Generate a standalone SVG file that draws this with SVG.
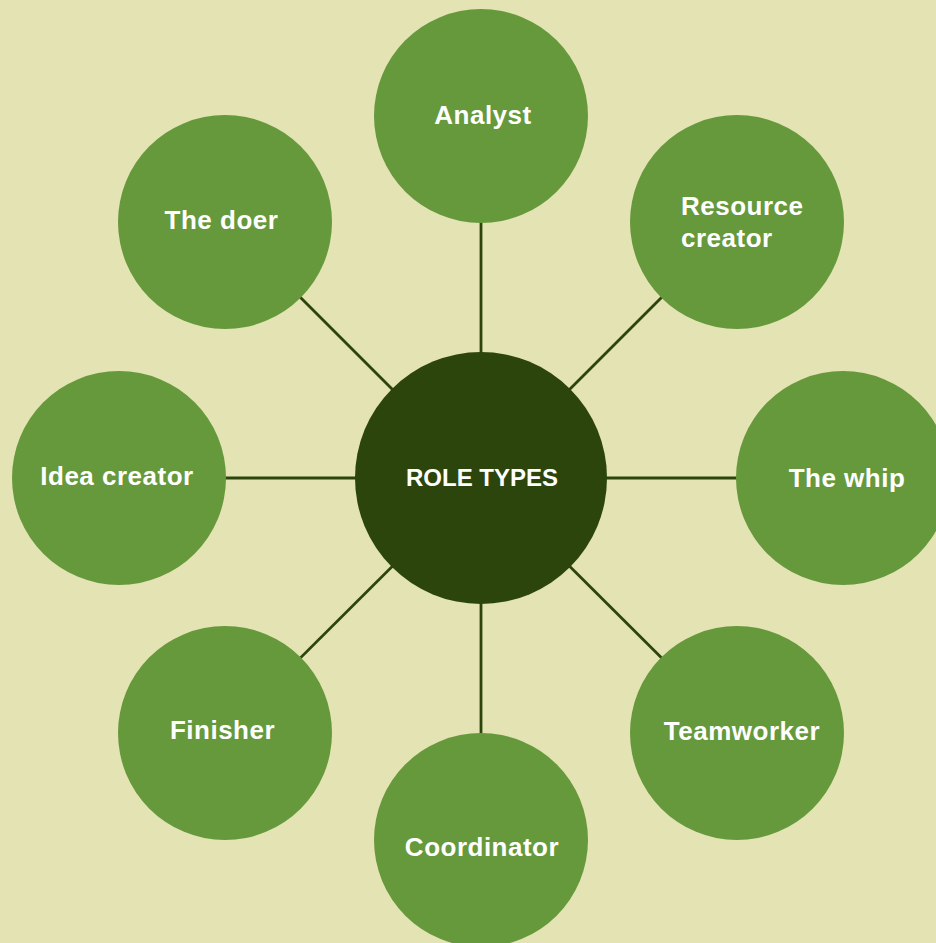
<svg xmlns="http://www.w3.org/2000/svg" width="936" height="943" viewBox="0 0 936 943">
  <style>
    .role { fill: #66993b; }
    .hub { fill: #2c450c; }
    .link { stroke: #2c450c; stroke-width: 2.8; fill: none; }
    .label { fill: #ffffff; font-family: "Liberation Sans", Arial, sans-serif; font-weight: 700; font-size: 26px; letter-spacing: 0.5px; text-anchor: middle; }
    .hub-label { fill: #ffffff; font-family: "Liberation Sans", Arial, sans-serif; font-weight: 700; font-size: 24px; text-anchor: middle; }
  </style>
  <rect width="936" height="943" fill="#e4e3b4"/>

  <!-- spokes from the hub to each role -->
  <g id="connectors">
    <line class="link" x1="481" y1="478" x2="481" y2="116"/>
    <line class="link" x1="481" y1="478" x2="737" y2="222"/>
    <line class="link" x1="481" y1="478" x2="843" y2="478"/>
    <line class="link" x1="481" y1="478" x2="737" y2="733"/>
    <line class="link" x1="481" y1="478" x2="481" y2="840"/>
    <line class="link" x1="481" y1="478" x2="225" y2="733"/>
    <line class="link" x1="481" y1="478" x2="119" y2="478"/>
    <line class="link" x1="481" y1="478" x2="225" y2="222"/>
  </g>

  <g id="hub">
    <circle class="hub" cx="481" cy="478" r="126"/>
    <text class="hub-label" x="482" y="486">ROLE TYPES</text>
  </g>

  <g id="analyst">
    <circle class="role" cx="481" cy="116" r="107"/>
    <text class="label" x="483" y="124">Analyst</text>
  </g>

  <g id="resource-creator">
    <circle class="role" cx="737" cy="222" r="107"/>
    <text class="label" x="681" y="215" style="text-anchor:start">Resource</text>
    <text class="label" x="681" y="247" style="text-anchor:start">creator</text>
  </g>

  <g id="the-whip">
    <circle class="role" cx="843" cy="478" r="107"/>
    <text class="label" x="847" y="487">The whip</text>
  </g>

  <g id="teamworker">
    <circle class="role" cx="737" cy="733" r="107"/>
    <text class="label" x="742" y="740">Teamworker</text>
  </g>

  <g id="coordinator">
    <circle class="role" cx="481" cy="840" r="107"/>
    <text class="label" x="482" y="856">Coordinator</text>
  </g>

  <g id="finisher">
    <circle class="role" cx="225" cy="733" r="107"/>
    <text class="label" x="222.5" y="739">Finisher</text>
  </g>

  <g id="idea-creator">
    <circle class="role" cx="119" cy="478" r="107"/>
    <text class="label" x="117" y="485">Idea creator</text>
  </g>

  <g id="the-doer">
    <circle class="role" cx="225" cy="222" r="107"/>
    <text class="label" x="221.5" y="229">The doer</text>
  </g>
</svg>
